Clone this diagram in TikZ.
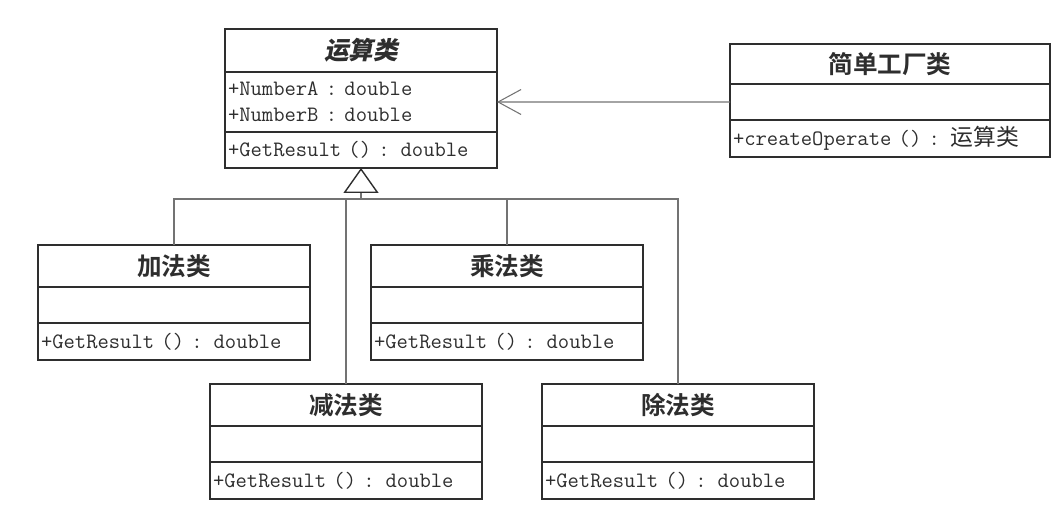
\documentclass[tikz,border=0pt]{standalone}
\usepackage{fontspec}
\newfontfamily\cjk{Noto Sans CJK SC}[BoldFont={Noto Sans CJK SC Bold}]
\newfontfamily\cjkslant{Noto Sans CJK SC Bold}[FakeSlant=0.2]
\usetikzlibrary{positioning,arrows.meta}
\definecolor{boxcol}{gray}{0.18}
\definecolor{linecol}{gray}{0.45}
\definecolor{textcol}{gray}{0.18}
\tikzset{
  part/.style={draw=boxcol, line width=0.9pt, outer sep=0pt, inner xsep=0.06cm, inner ysep=0pt, text=textcol},
  title/.style={part, font=\cjk\bfseries\fontsize{14}{16}\selectfont, align=center},
  member/.style={part, font=\ttfamily\fontsize{12.5}{15}\selectfont, align=left},
  link/.style={draw=linecol, line width=0.6pt},
}
\begin{document}
\begin{tikzpicture}[x=0.02cm,y=-0.02cm]
\useasboundingbox (0,0) rectangle (1057,515);
% abstract class
\node[title, anchor=north, text width=5.32cm, minimum height=0.86cm] (ys) at (361,29) {\cjkslant 运算类};
\node[member, below=0pt of ys, text width=5.32cm, minimum height=1.2cm] (ys-a) {+NumberA : double\\+NumberB : double};
\node[member, below=0pt of ys-a, text width=5.32cm, minimum height=0.72cm] (ys-o) {+GetResult () : double};

% factory
\node[title, anchor=north, text width=6.28cm, minimum height=0.8cm] (gc) at (890,44) {简单工厂类};
\node[member, below=0pt of gc, text width=6.28cm, minimum height=0.72cm] (gc-a) {};
\node[member, below=0pt of gc-a, text width=6.28cm, minimum height=0.74cm] (gc-o) {+createOperate () : {\cjk\fontsize{13}{15}\selectfont 运算类}};

% subclasses
\node[title, anchor=north, text width=5.32cm, minimum height=0.84cm] (jia) at (174,245) {加法类};
\node[member, below=0pt of jia, text width=5.32cm, minimum height=0.72cm] (jia-a) {};
\node[member, below=0pt of jia-a, text width=5.32cm, minimum height=0.74cm] (jia-o) {+GetResult () : double};

\node[title, anchor=north, text width=5.32cm, minimum height=0.84cm] (cheng) at (507,245) {乘法类};
\node[member, below=0pt of cheng, text width=5.32cm, minimum height=0.72cm] (cheng-a) {};
\node[member, below=0pt of cheng-a, text width=5.32cm, minimum height=0.74cm] (cheng-o) {+GetResult () : double};

\node[title, anchor=north, text width=5.32cm, minimum height=0.84cm] (jian) at (346,384) {减法类};
\node[member, below=0pt of jian, text width=5.32cm, minimum height=0.72cm] (jian-a) {};
\node[member, below=0pt of jian-a, text width=5.32cm, minimum height=0.74cm] (jian-o) {+GetResult () : double};

\node[title, anchor=north, text width=5.32cm, minimum height=0.84cm] (chu) at (678,384) {除法类};
\node[member, below=0pt of chu, text width=5.32cm, minimum height=0.72cm] (chu-a) {};
\node[member, below=0pt of chu-a, text width=5.32cm, minimum height=0.74cm] (chu-o) {+GetResult () : double};

% dependency
\draw[link, -{Straight Barb[length=0.46cm,width=0.5cm]}] (gc-a.west) -- (ys-a.east);

% generalization
\coordinate (hub) at ([yshift=-0.62cm]ys-o.south);
\draw[link, -{Triangle[open,length=0.5cm,width=0.7cm,color=boxcol,line width=0.8pt]}] (hub) -- (ys-o.south);
\draw[link] (jia.north) |- (hub);
\draw[link] (cheng.north) |- (hub);
\draw[link] (jian.north) |- (hub);
\draw[link] (chu.north) |- (hub);
\end{tikzpicture}
\end{document}
